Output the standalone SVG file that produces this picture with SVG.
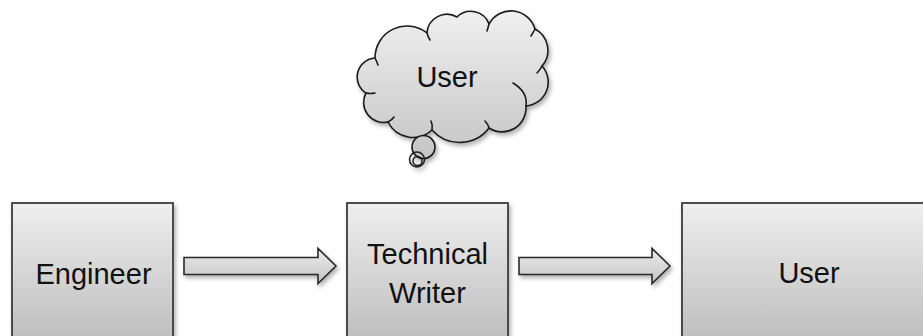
<svg xmlns="http://www.w3.org/2000/svg" width="923" height="336" viewBox="0 0 923 336">
  <defs>
    <linearGradient id="boxGrad" gradientUnits="userSpaceOnUse" x1="0" y1="203" x2="0" y2="345">
      <stop offset="0" stop-color="#efefef"/>
      <stop offset="1" stop-color="#bcbcbc"/>
    </linearGradient>
    <linearGradient id="arrowGrad" x1="0" y1="0" x2="0" y2="1">
      <stop offset="0" stop-color="#ececec"/>
      <stop offset="1" stop-color="#c4c4c4"/>
    </linearGradient>
    <linearGradient id="cloudGrad" gradientUnits="userSpaceOnUse" x1="0" y1="10" x2="0" y2="168">
      <stop offset="0" stop-color="#f0f0f0"/>
      <stop offset="1" stop-color="#c2c2c2"/>
    </linearGradient>
    <filter id="shadow" x="-10%" y="-10%" width="130%" height="140%">
      <feDropShadow dx="2" dy="3" stdDeviation="2" flood-color="#000" flood-opacity="0.3"/>
    </filter>
  </defs>
  <style>
    .box { fill: url(#boxGrad); stroke: #3c3c3c; stroke-width: 1.8; filter: url(#shadow); }
    .arrow { fill: url(#arrowGrad); stroke: #2a2a2a; stroke-width: 1.6; stroke-linejoin: miter; filter: url(#shadow); }
    .cloud { fill: url(#cloudGrad); stroke: #1a1a1a; stroke-width: 1.6; stroke-linejoin: round; }
    .ring { fill: none; stroke: #1a1a1a; stroke-width: 1.5; }
    .inner { fill: none; stroke: #1a1a1a; stroke-width: 1.6; stroke-linecap: round; }
    .lbl { font-family: "Liberation Sans", Arial, sans-serif; font-size: 29px; fill: #111; text-anchor: middle; }
  </style>

  <g id="thought-cloud">
    <g filter="url(#shadow)">
      <path class="cloud" d="M375,58 A32,32 0 0 1 427,33 A20,20 0 0 1 457,17 A19.5,19.5 0 0 1 489,24 A25,25 0 0 1 535,29 A24,24 0 0 1 542,66 A24,24 0 0 1 526,106 A24,24 0 0 1 489,128 A37,37 0 0 1 432,130 A28,28 0 0 1 388,122 A20,20 0 0 1 366,93 A19,19 0 0 1 375,58 Z"/>
      <circle class="cloud" cx="423.5" cy="147" r="11.5"/>
      <circle class="ring" cx="417" cy="159.5" r="7.5"/>
      <circle class="ring" cx="417.5" cy="161" r="4.5"/>
    </g>
    <path class="inner" d="M375,58 Q377,62 378,65"/>
    <path class="inner" d="M427,33 Q428,37 430,40"/>
    <path class="inner" d="M489,24 Q488,28 487,31"/>
    <path class="inner" d="M535,29 Q533,33 531,36"/>
    <path class="inner" d="M542,66 Q540,70 537,73"/>
    <path class="inner" d="M526,106 Q528,92 513,83"/>
    <path class="inner" d="M489,128 Q488,124 485,121"/>
    <path class="inner" d="M432,130 Q433,125 431,121"/>
    <path class="inner" d="M388,122 Q392,120 394,117"/>
    <path class="inner" d="M366,93 Q371,94 375,93"/>
    <text class="lbl" x="447" y="87">User</text>
  </g>

  <g id="engineer">
    <rect class="box" x="12" y="203" width="161" height="160"/>
    <text class="lbl" x="93.5" y="284">Engineer</text>
  </g>

  <g id="technical-writer">
    <rect class="box" x="347" y="203" width="161" height="160"/>
    <text class="lbl" x="427.5" y="264">Technical</text>
    <text class="lbl" x="427.5" y="303">Writer</text>
  </g>

  <g id="user">
    <rect class="box" x="682" y="203" width="254" height="160"/>
    <text class="lbl" x="809" y="283">User</text>
  </g>

  <g id="connectors">
    <path class="arrow" d="M184,257.5 L318,257.5 L318,248.5 L336,266 L318,283.5 L318,274.5 L184,274.5 Z"/>
    <path class="arrow" d="M519,257.5 L652,257.5 L652,248.5 L670,266 L652,283.5 L652,274.5 L519,274.5 Z"/>
  </g>
</svg>
